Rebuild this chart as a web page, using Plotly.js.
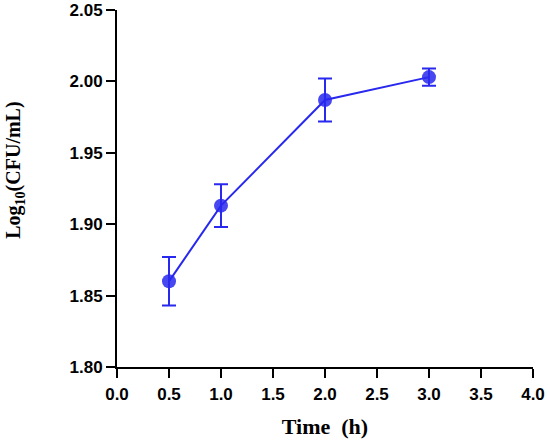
<!DOCTYPE html>
<html>
<head>
<meta charset="utf-8">
<script src="https://cdn.plot.ly/plotly-3.0.1.min.js"></script>
<style>html,body{margin:0;padding:0;background:#fff;}#chart{width:550px;height:444px;}</style>
</head>
<body>
<div id="chart"></div>
<script>
const timeHours = [0.5, 1.0, 2.0, 3.0];
const logCFU = [1.860, 1.913, 1.987, 2.003];
const errorSD = [0.017, 0.015, 0.015, 0.006];
const xTicks = [0, 0.5, 1, 1.5, 2, 2.5, 3, 3.5, 4];
const xTickLabels = ["0.0", "0.5", "1.0", "1.5", "2.0", "2.5", "3.0", "3.5", "4.0"];
const yTicks = [1.80, 1.85, 1.90, 1.95, 2.00, 2.05];
const yTickLabels = ["1.80", "1.85", "1.90", "1.95", "2.00", "2.05"];

const blue = 'rgb(40,40,238)';
const trace = {
  x: timeHours,
  y: logCFU,
  type: 'scatter',
  mode: 'lines+markers',
  line: {color: blue, width: 2},
  marker: {color: 'rgba(40,40,238,0.85)', size: 14},
  error_y: {type: 'data', array: errorSD, visible: true, color: blue, thickness: 2, width: 7},
  hoverinfo: 'none'
};

const tickFont = {family: 'Arial, "Liberation Sans", sans-serif', size: 17, color: '#000', weight: 'bold'};
const layout = {
  width: 550, height: 444,
  margin: {l: 117, r: 17, t: 10, b: 77},
  paper_bgcolor: '#fff', plot_bgcolor: '#fff',
  showlegend: false,
  font: {family: '"Liberation Serif", "Times New Roman", serif', color: '#000'},
  xaxis: {
    range: [0, 4], tickvals: xTicks, ticktext: xTickLabels,
    showline: true, linecolor: '#000', linewidth: 2, mirror: false,
    ticks: 'outside', ticklen: 9, tickwidth: 2, tickcolor: '#000',
    ticklabelstandoff: 2,
    showgrid: false, zeroline: false, tickfont: tickFont,
    title: {text: '<b>Time  (h)</b>', font: {family: '"Liberation Serif", "Times New Roman", serif', size: 22, color: '#000'}, standoff: 15}
  },
  yaxis: {
    range: [1.80, 2.05], tickvals: yTicks, ticktext: yTickLabels,
    showline: true, linecolor: '#000', linewidth: 2,
    ticks: 'outside', ticklen: 9, tickwidth: 2, tickcolor: '#000',
    showgrid: false, zeroline: false, tickfont: tickFont
  },
  annotations: [{
    text: '<b>Log<sub>10</sub>(CFU/mL)</b>',
    xref: 'paper', yref: 'paper', x: -0.245, y: 0.55,
    xanchor: 'center', yanchor: 'middle', textangle: -90, showarrow: false,
    font: {family: '"Liberation Serif", "Times New Roman", serif', size: 20, color: '#000'}
  }]
};

Plotly.newPlot('chart', [trace], layout, {displayModeBar: false, staticPlot: true});
</script>
</body>
</html>
